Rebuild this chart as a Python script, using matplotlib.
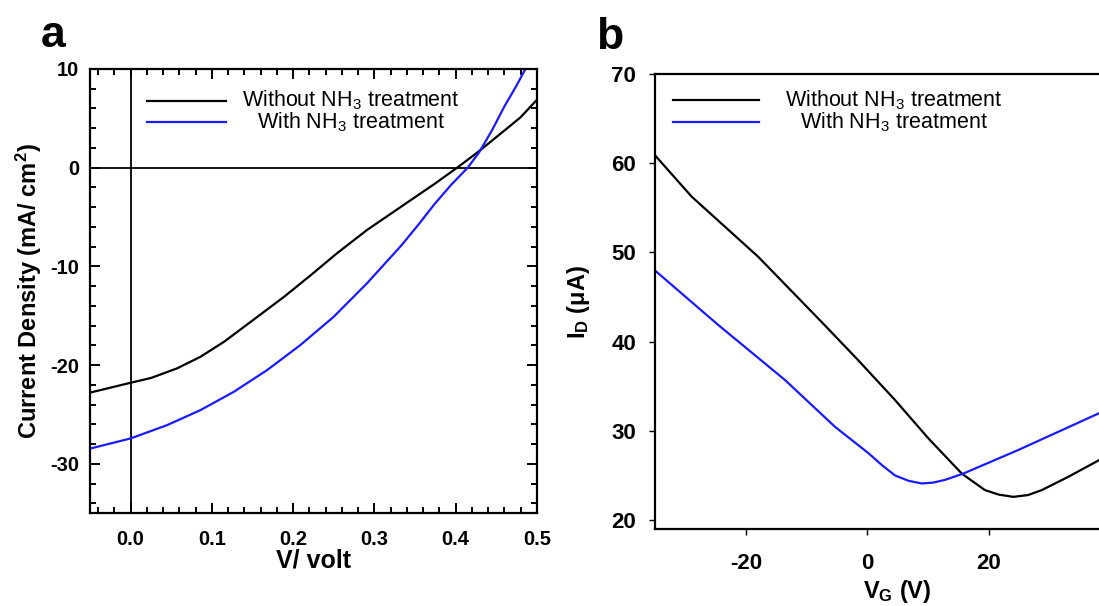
import matplotlib
matplotlib.use("Agg")
import matplotlib.pyplot as plt
from matplotlib.ticker import MultipleLocator, FormatStrFormatter

plt.rcParams["font.family"] = ["Liberation Sans", "DejaVu Sans"]
plt.rcParams["mathtext.fontset"] = "custom"
plt.rcParams["mathtext.rm"] = "Liberation Sans"
plt.rcParams["mathtext.it"] = "Liberation Sans:italic"
plt.rcParams["mathtext.bf"] = "Liberation Sans:bold"
plt.rcParams["axes.unicode_minus"] = False

# ── Panel a: J-V curves ──────────────────────────────────────────────────────
V_WITHOUT = [-0.049, 0.0, 0.025, 0.057, 0.086, 0.115, 0.148, 0.189, 0.222, 0.254,
             0.291, 0.333, 0.374, 0.402, 0.427, 0.445, 0.460, 0.480, 0.50]
J_WITHOUT = [-22.76, -21.78, -21.3, -20.33, -19.15, -17.63, -15.6, -13.07, -10.87, -8.67,
             -6.31, -3.95, -1.65, 0.0, 1.55, 2.75, 3.75, 5.1, 6.86]
V_WITH = [-0.049, 0.0, 0.045, 0.086, 0.127, 0.168, 0.209, 0.250, 0.291, 0.333,
          0.355, 0.374, 0.395, 0.415, 0.429, 0.445, 0.460, 0.475, 0.486]
J_WITH = [-28.43, -27.42, -26.07, -24.55, -22.7, -20.5, -17.96, -15.1, -11.71, -7.9,
          -5.7, -3.7, -1.7, 0.0, 1.55, 3.8, 6.18, 8.3, 10.0]

# ── Panel b: transfer curves ─────────────────────────────────────────────────
VG_WITHOUT = [-35.1, -29.0, -18.0, -7.55, -1.49, 4.57, 10.08, 15.6, 19.4, 21.7, 24.1,
              26.5, 28.8, 33.2, 38.2, 40.0]
ID_WITHOUT = [60.92, 56.25, 49.5, 42.2, 37.9, 33.45, 29.15, 25.2, 23.36, 22.85, 22.6,
              22.8, 23.36, 24.86, 26.7, 27.5]
VG_WITH = [-35.1, -24.6, -13.6, -5.36, 0.17, 2.5, 4.57, 6.8, 8.98, 10.9, 12.8, 15.8,
           24.9, 38.2, 40.0]
ID_WITH = [48.0, 41.86, 35.7, 30.46, 27.5, 26.1, 25.0, 24.4, 24.1, 24.2, 24.5, 25.2,
           27.85, 31.96, 32.5]

LABELS = ["Without NH$_3$ treatment", "With NH$_3$ treatment"]
COLORS = ["black", "#1a1aff"]

fig = plt.figure(figsize=(10.99, 6.06), dpi=100)

# panel a
ax = fig.add_axes([0.0819, 0.153, 0.4065, 0.7332])
ax.axhline(0, color="black", linewidth=1.3)
ax.axvline(0, color="black", linewidth=1.3)
ax.plot(V_WITHOUT, J_WITHOUT, color=COLORS[0], linewidth=1.6)
ax.plot(V_WITH, J_WITH, color=COLORS[1], linewidth=1.6)
ax.set_xlim(-0.05, 0.5)
ax.set_ylim(-35, 10)
ax.xaxis.set_major_locator(MultipleLocator(0.1))
ax.xaxis.set_minor_locator(MultipleLocator(0.02))
ax.yaxis.set_major_locator(MultipleLocator(10))
ax.yaxis.set_minor_locator(MultipleLocator(2))
ax.xaxis.set_major_formatter(FormatStrFormatter("%.1f"))
ax.tick_params(which="both", direction="in", top=True, right=True, width=1.4)
ax.tick_params(which="major", length=7, labelsize=14.5)
ax.tick_params(which="minor", length=4)
ax.tick_params(axis="x", which="major", pad=12)
ax.tick_params(axis="y", which="major", pad=8)
for lab in ax.get_xticklabels() + ax.get_yticklabels():
    lab.set_fontweight("bold")
for s in ax.spines.values():
    s.set_linewidth(1.6)
ax.set_xlabel("V/ volt", fontsize=18, fontweight="bold", labelpad=0)
ax.set_ylabel("Current Density (mA/ cm$^\\mathbf{2}$)", fontsize=17, fontweight="bold", labelpad=4)
for i, (lab, c) in enumerate(zip(LABELS, COLORS)):
    y = 0.929 - i * 0.048
    ax.plot([0.128, 0.304], [y, y], color=c, linewidth=1.6, transform=ax.transAxes)
    ax.text(0.585, y, lab, transform=ax.transAxes, ha="center", va="center", fontsize=15.5)
fig.text(0.037, 0.922, "a", fontsize=32, fontweight="bold", va="baseline")

# panel b
ax = fig.add_axes([0.5963, 0.1271, 0.441, 0.7508])
ax.plot(VG_WITHOUT, ID_WITHOUT, color=COLORS[0], linewidth=1.6)
ax.plot(VG_WITH, ID_WITH, color=COLORS[1], linewidth=1.6)
ax.set_xlim(-35, 45)
ax.set_ylim(19, 70)
ax.set_xticks([-20, 0, 20])
ax.set_yticks([20, 30, 40, 50, 60, 70])
ax.tick_params(direction="out", length=4, width=1, labelsize=16)
ax.tick_params(axis="x", pad=13)
ax.tick_params(axis="y", pad=10)
for lab in ax.get_xticklabels() + ax.get_yticklabels():
    lab.set_fontweight("bold")
for s in ax.spines.values():
    s.set_linewidth(1.6)
ax.set_xlabel("V$_\\mathbf{G}$ (V)", fontsize=17, fontweight="bold", labelpad=3)
ax.set_ylabel("I$_\\mathbf{D}$ ($\\mathbf{\\mu}$A)", fontsize=17, fontweight="bold", labelpad=14)
for i, (lab, c) in enumerate(zip(LABELS, COLORS)):
    y = 0.943 - i * 0.048
    ax.plot([0.036, 0.213], [y, y], color=c, linewidth=1.6, transform=ax.transAxes)
    ax.text(0.493, y, lab, transform=ax.transAxes, ha="center", va="center", fontsize=15.5)
fig.text(0.542, 0.919, "b", fontsize=32, fontweight="bold", va="baseline")

fig.savefig("out.png", dpi=100)
